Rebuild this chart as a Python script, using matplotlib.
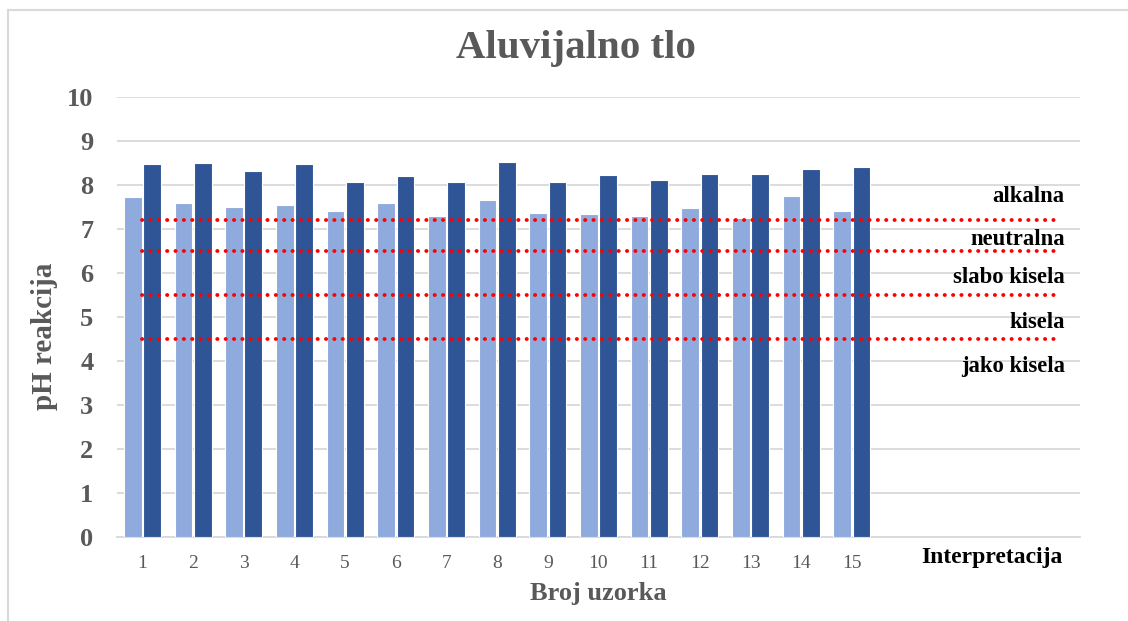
import matplotlib
matplotlib.use("Agg")
import matplotlib.pyplot as plt
from matplotlib.lines import Line2D
import numpy as np

# ---- data ----
samples = [str(i) for i in range(1, 16)]
series_a = [7.72, 7.60, 7.50, 7.55, 7.42, 7.60, 7.29, 7.65, 7.37, 7.33, 7.29, 7.48, 7.26, 7.74, 7.41]
series_b = [8.47, 8.51, 8.32, 8.47, 8.06, 8.20, 8.06, 8.53, 8.06, 8.23, 8.12, 8.26, 8.25, 8.36, 8.40]
n_categories = 19
threshold_values = [7.2, 6.5, 5.5, 4.5]
zone_labels = ["alkalna", "neutralna", "slabo kisela", "kisela", "jako kisela"]
zone_label_y = [7.62, 6.64, 5.77, 4.75, 3.75]
title = "Aluvijalno tlo"
xlabel = "Broj uzorka"
ylabel = "pH reakcija"
extra_label = "Interpretacija"

serif = ["Liberation Serif", "DejaVu Serif"]
gray_text = "#595959"
light_blue = "#8FAADC"
dark_blue = "#2F5597"
grid_col = "#D9D9D9"

W, H = 1128, 621
fig = plt.figure(figsize=(W / 100, H / 100), dpi=100)
ax = fig.add_axes([117 / W, 1 - 537 / H, (1080 - 117) / W, (537 - 97) / H])

x = np.arange(len(samples))
bw = 0.35
off = 0.19
ax.bar(x - off, series_a, width=bw, color=light_blue, edgecolor="white", linewidth=0.8, zorder=3)
ax.bar(x + off, series_b, width=bw, color=dark_blue, edgecolor="white", linewidth=0.8, zorder=3)

xl = np.arange(n_categories)
for v in threshold_values:
    ax.plot(xl, [v] * n_categories, linestyle=(0, (0.05, 2.1)), color="#FF0000",
            linewidth=2.8, dash_capstyle="round", solid_capstyle="round", zorder=4)

ax.set_xlim(-0.5, n_categories - 0.5)
ax.set_ylim(0, 10)
ax.set_yticks(range(0, 11))
ax.set_yticklabels([str(i) for i in range(0, 11)], fontfamily=serif, fontsize=19,
                   fontweight="bold", color=gray_text)
ax.set_xticks(x)
ax.set_xticklabels(samples, fontfamily=serif, fontsize=14, color=gray_text)
ax.tick_params(axis="y", length=0, pad=17)
ax.tick_params(axis="x", length=0, pad=13)
ax.grid(axis="y", color=grid_col, linewidth=1.3, zorder=0)
ax.set_axisbelow(True)
for s in ["top", "right", "left"]:
    ax.spines[s].set_visible(False)
ax.spines["bottom"].set_color(grid_col)
ax.spines["bottom"].set_linewidth(1.3)

for lab, yv in zip(zone_labels, zone_label_y):
    ax.text(18.2, yv, lab, ha="right", va="baseline", fontfamily=serif, fontsize=16.3,
            fontweight="bold", color="black", zorder=5)

ax.text(18.15, -20 / 440, extra_label, transform=ax.get_xaxis_transform(), ha="right",
        va="center", fontfamily=serif, fontsize=17, fontweight="bold", color="black")

fig.text(576 / W, 1 - 58 / H, title, ha="center", va="baseline", fontfamily=serif,
         fontsize=29.5, fontweight="bold", color=gray_text)
fig.text(598 / W, 1 - 600 / H, xlabel, ha="center", va="baseline", fontfamily=serif,
         fontsize=19, fontweight="bold", color=gray_text)
fig.text(45 / W, 1 - 336 / H, ylabel, ha="center", va="center", rotation=90,
         fontfamily=serif, fontsize=21, fontweight="bold", color=gray_text)

# chart frame
fig.add_artist(Line2D([8 / W, 8 / W], [0, 1 - 9.5 / H], transform=fig.transFigure,
                      color="#D9D9D9", linewidth=1.5))
fig.add_artist(Line2D([8 / W, 1], [1 - 9.5 / H, 1 - 9.5 / H], transform=fig.transFigure,
                      color="#D9D9D9", linewidth=1.5))

fig.savefig("out.png", dpi=100)
